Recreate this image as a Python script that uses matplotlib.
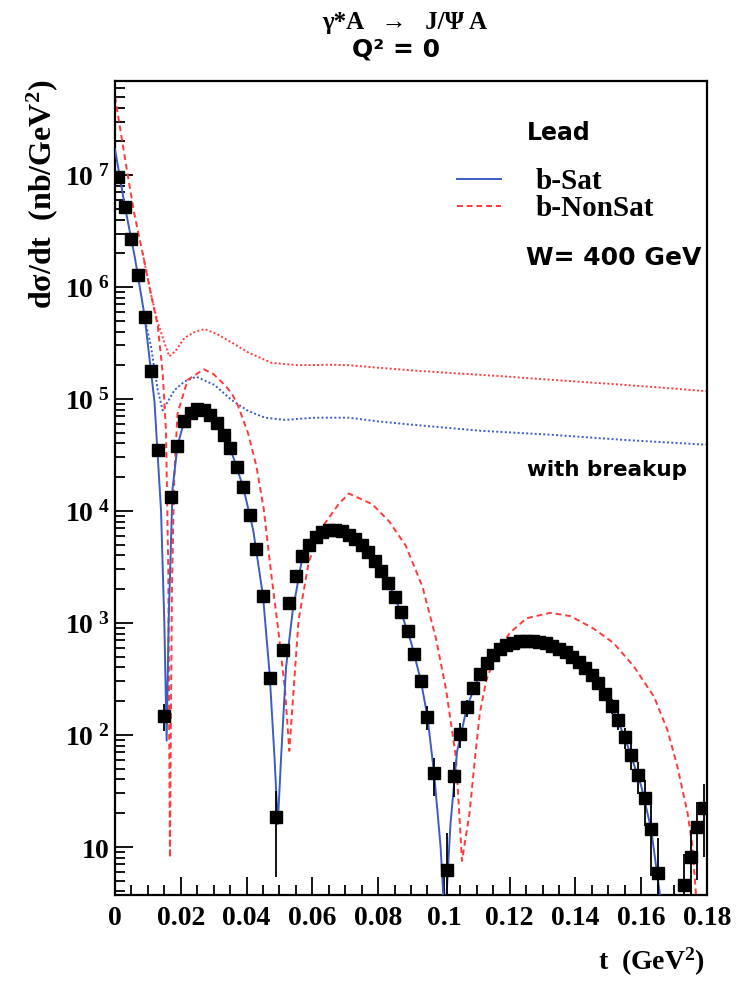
import numpy as np
import matplotlib
matplotlib.use("Agg")
import matplotlib.pyplot as plt
from matplotlib.ticker import MultipleLocator, FuncFormatter, FixedLocator, LogLocator, NullFormatter
from matplotlib.lines import Line2D

plt.rcParams['mathtext.fontset'] = 'custom'
plt.rcParams['mathtext.rm'] = 'Liberation Serif:bold'
plt.rcParams['mathtext.bf'] = 'Liberation Serif:bold'
plt.rcParams['mathtext.it'] = 'Liberation Serif:bold:italic'

SERIF = ["Liberation Serif", "DejaVu Serif"]
SANS = ["DejaVu Sans"]
BLUE = "#3a5cc4"
RED = "#ff3a3a"

# pseudo data (lead, b-Sat), bin centres in t
t_data = [0.001, 0.003, 0.005, 0.007, 0.009, 0.011, 0.013, 0.015, 0.017, 0.019,
          0.021, 0.023, 0.025, 0.027, 0.029, 0.031, 0.033, 0.035, 0.037, 0.039,
          0.041, 0.043, 0.045, 0.047, 0.049, 0.051, 0.053, 0.055, 0.057, 0.059,
          0.061, 0.063, 0.065, 0.067, 0.069, 0.071, 0.073, 0.075, 0.077, 0.079,
          0.081, 0.083, 0.085, 0.087, 0.089, 0.091, 0.093, 0.095, 0.097, 0.101,
          0.103, 0.105, 0.107, 0.109, 0.111, 0.113, 0.115, 0.117, 0.119, 0.121,
          0.123, 0.125, 0.127, 0.129, 0.131, 0.133, 0.135, 0.137, 0.139, 0.141,
          0.143, 0.145, 0.147, 0.149, 0.151, 0.153, 0.155, 0.157, 0.159, 0.161,
          0.163, 0.165, 0.173, 0.175, 0.177, 0.179]
y_data = [9.66e6, 5.21e6, 2.67e6, 1.28e6, 5.36e5, 1.79e5, 3.51e4, 148, 1.33e4, 3.80e4,
          6.31e4, 7.45e4, 8.09e4, 7.94e4, 7.19e4, 6.07e4, 4.78e4, 3.63e4, 2.45e4, 1.63e4,
          9.2e3, 4.6e3, 1.73e3, 324, 18.4, 570, 1.51e3, 2.65e3, 3.94e3, 5.0e3,
          5.9e3, 6.5e3, 6.8e3, 6.8e3, 6.6e3, 6.1e3, 5.6e3, 4.94e3, 4.29e3, 3.59e3,
          2.90e3, 2.26e3, 1.71e3, 1.24e3, 841, 531, 305, 145, 45.7, 6.2,
          42.7, 102, 176, 262, 347, 437, 513, 589, 631, 668,
          689, 695, 692, 679, 658, 627, 589, 546, 499, 452,
          398, 343, 288, 234, 182, 135, 95.5, 66.1, 43.6, 27.5,
          14.5, 5.9, 4.6, 8.1, 15.1, 22.1]
y_err = [2e4, 1.5e4, 1e4, 6e3, 3e3, 1.5e3, 500, 40, 300, 500,
         600, 700, 700, 700, 600, 600, 500, 400, 300, 250,
         180, 120, 70, 40, 13, 60, 80, 100, 120, 140,
         150, 150, 160, 160, 150, 150, 140, 130, 120, 110,
         100, 90, 80, 70, 55, 45, 35, 35, 17, 7,
         15, 25, 30, 35, 40, 40, 45, 45, 45, 50,
         50, 50, 50, 50, 50, 50, 45, 45, 45, 40,
         40, 35, 35, 30, 28, 25, 20, 17, 14, 12,
         9, 6, 4, 6, 10, 14]

# b-Sat coherent (solid blue)
t_sat = [0.0, 0.003, 0.006, 0.009, 0.012, 0.014, 0.015, 0.0157, 0.0163, 0.0175,
         0.019, 0.021, 0.023, 0.025, 0.027, 0.030, 0.033, 0.036, 0.039, 0.042,
         0.045, 0.047, 0.0485, 0.0495, 0.0505, 0.052, 0.054, 0.057, 0.060, 0.063,
         0.066, 0.069, 0.072, 0.075, 0.078, 0.081, 0.084, 0.087, 0.090, 0.093,
         0.095, 0.097, 0.099, 0.1003, 0.102, 0.104, 0.107, 0.110, 0.114, 0.118,
         0.122, 0.126, 0.130, 0.135, 0.140, 0.145, 0.150, 0.155, 0.160, 0.163, 0.166]
y_sat = [1.7e7, 5.25e6, 1.86e6, 5.5e5, 9.5e4, 1.0e4, 1.0e3, 89, 1.0e3, 1.58e4,
         3.8e4, 6.3e4, 7.5e4, 8.1e4, 7.9e4, 6.6e4, 4.8e4, 3.0e4, 1.62e4, 6.8e3,
         1.74e3, 355, 63, 16, 63, 400, 1.26e3, 3.9e3, 5.5e3, 6.5e3,
         6.9e3, 6.6e3, 5.9e3, 4.9e3, 3.9e3, 2.9e3, 2.0e3, 1.24e3, 676, 305,
         145, 46, 10, 2, 16, 71, 176, 302, 479, 610,
         679, 695, 670, 589, 476, 343, 209, 95, 35, 14.5, 3.2]

# b-NonSat coherent (dashed red)
t_nonsat = [0.0, 0.0033, 0.0058, 0.0084, 0.0109, 0.013, 0.0145, 0.0155, 0.0162, 0.0167,
            0.0173, 0.018, 0.019, 0.0221, 0.027, 0.030, 0.0335, 0.0355, 0.0374, 0.0405,
            0.043, 0.0452, 0.0476, 0.0497, 0.0517, 0.053, 0.0543, 0.0558, 0.0589, 0.0629,
            0.068, 0.0711, 0.0782, 0.0833, 0.0884, 0.0935, 0.0976, 0.1007, 0.1037, 0.1055,
            0.1078, 0.1093, 0.1109, 0.1129, 0.116, 0.120, 0.1251, 0.1323, 0.1385, 0.1455,
            0.1516, 0.1578, 0.1639, 0.168, 0.171, 0.1741, 0.1756, 0.1766, 0.1772]
y_nonsat = [5.0e7, 1.26e7, 4.6e6, 2.0e6, 8.7e5, 4.5e5, 1.7e5, 5.2e4, 3.0e3, 8,
            2.0e3, 2.0e4, 7.4e4, 1.48e5, 1.84e5, 1.66e5, 1.32e5, 1.12e5, 8.7e4, 4.9e4,
            2.5e4, 1.05e4, 2.6e3, 840, 250, 72, 250, 1.05e3, 3.5e3, 7.1e3,
            1.15e4, 1.43e4, 1.15e4, 8.1e3, 4.9e3, 2.1e3, 724, 250, 62, 7.5,
            20, 56, 155, 309, 537, 813, 1.1e3, 1.23e3, 1.15e3, 891,
            661, 407, 219, 110, 52, 20, 10, 3.9, 2.0]

# with breakup (dotted)
t_nonsat_bu = [0.0084, 0.0109, 0.013, 0.015, 0.0165, 0.0185, 0.0211, 0.0245, 0.0273, 0.031,
               0.0354, 0.0405, 0.0476, 0.0558, 0.065, 0.0711, 0.080, 0.090, 0.100, 0.117,
               0.130, 0.148, 0.165, 0.180]
y_nonsat_bu = [2.0e6, 8.7e5, 4.8e5, 3.2e5, 2.4e5, 2.7e5, 3.5e5, 4.0e5, 4.2e5, 3.8e5,
               3.2e5, 2.6e5, 2.1e5, 2.0e5, 2.02e5, 2.0e5, 1.9e5, 1.8e5, 1.72e5, 1.6e5,
               1.5e5, 1.38e5, 1.27e5, 1.17e5]
t_sat_bu = [0.0089, 0.0109, 0.013, 0.0145, 0.0181, 0.0211, 0.0247, 0.0303, 0.0354, 0.0405,
            0.0456, 0.0517, 0.0609, 0.0711, 0.080, 0.090, 0.111, 0.132, 0.155, 0.180]
y_sat_bu = [5.4e5, 3.0e5, 1.2e5, 7.9e4, 1.2e5, 1.43e5, 1.58e5, 1.33e5, 9.8e4, 7.8e4,
            6.8e4, 6.5e4, 6.8e4, 6.8e4, 6.3e4, 5.9e4, 5.2e4, 4.8e4, 4.3e4, 3.9e4]

y_major = [1e1, 1e2, 1e3, 1e4, 1e5, 1e6, 1e7]

fig = plt.figure(figsize=(7.49, 9.92), dpi=100)
ax = fig.add_axes([115 / 749, 1 - 895 / 992, 592 / 749, 814 / 992])
ax.set_yscale("log")
ax.set_xlim(0, 0.18)
ax.set_ylim(3.72, 6.9e7)

ax.plot(t_nonsat_bu, y_nonsat_bu, color=RED, lw=1.4, ls=(0, (1, 1.2)), zorder=2)
ax.plot(t_sat_bu, y_sat_bu, color=BLUE, lw=1.4, ls=(0, (1, 1.2)), zorder=2)
ax.plot(t_nonsat, y_nonsat, color=RED, lw=1.4, ls=(0, (3, 2)), zorder=2)
ax.plot(t_sat, y_sat, color=BLUE, lw=1.4, zorder=3)

yd = np.array(y_data)
ye = np.array(y_err)
lower = np.minimum(ye, yd * 0.999)
ax.errorbar(t_data, y_data, yerr=[lower, ye], fmt="s", color="black", ms=9,
            elinewidth=1.3, capsize=0, zorder=4)

# axis styling (ROOT look)
for sp in ax.spines.values():
    sp.set_linewidth(1.6)
ax.xaxis.set_major_locator(MultipleLocator(0.02))
ax.xaxis.set_minor_locator(MultipleLocator(0.005))
ax.xaxis.set_major_formatter(FuncFormatter(lambda v, p: "0" if abs(v) < 1e-9 else f"{v:.2f}".rstrip("0")))
ax.yaxis.set_major_locator(FixedLocator(y_major))
ax.yaxis.set_minor_locator(LogLocator(base=10, subs=np.arange(2, 10), numticks=20))
ax.yaxis.set_minor_formatter(NullFormatter())


def ylab(v, pos):
    e = int(round(np.log10(v)))
    if e == 1:
        return r"$\mathbf{10}\ \ \ $"
    return r"$\mathbf{10}^{\ %d}$" % e


ax.yaxis.set_major_formatter(FuncFormatter(ylab))
ax.tick_params(which="both", direction="in", top=False, right=False, width=1.3)
ax.tick_params(which="major", length=13)
ax.tick_params(which="minor", length=7)
ax.tick_params(axis="x", which="major", labelsize=20, pad=8)
ax.tick_params(axis="y", which="major", labelsize=20, pad=4)
for lab in ax.get_xticklabels():
    lab.set_family(SERIF)
    lab.set_fontweight("bold")

# legend
handles = [Line2D([], [], color=BLUE, lw=1.4),
           Line2D([], [], color=RED, lw=1.4, ls=(0, (3, 2)))]
ax.legend(handles, ["b-Sat", "b-NonSat"], loc="upper left",
          bbox_to_anchor=((457 - 115) / 592, 1 - (168 - 81) / 814), frameon=False,
          prop={"family": SERIF, "weight": "bold", "size": 21},
          handlelength=1.5, handletextpad=1.2, labelspacing=0.0, borderpad=0,
          borderaxespad=0)

# texts
fig.text(405 / 749, 1 - 22 / 992, "γ*A   →   J/Ψ A", ha="center", va="center",
         family=SERIF, weight="bold", fontsize=18)
fig.text(396 / 749, 1 - 50 / 992, "Q² = 0", ha="center", va="center",
         family=SANS, weight="bold", fontsize=18)
fig.text(527 / 749, 1 - 133 / 992, "Lead", ha="left", va="center",
         family=SANS, weight="bold", fontsize=17)
fig.text(526 / 749, 1 - 258 / 992, "W= 400 GeV", ha="left", va="center",
         family=SANS, weight="bold", fontsize=18)
fig.text(527 / 749, 1 - 470 / 992, "with breakup", ha="left", va="center",
         family=SANS, weight="bold", fontsize=15.5)
fig.text(705 / 749, 1 - 962 / 992, "t  (GeV$^{2}$)", ha="right", va="center",
         family=SERIF, weight="bold", fontsize=20)
fig.text(42 / 749, 1 - 80 / 992, "dσ/dt  (nb/GeV$^{2}$)", ha="center", va="top",
         rotation=90, family=SERIF, weight="bold", fontsize=23)

fig.savefig("out.png", dpi=100)
